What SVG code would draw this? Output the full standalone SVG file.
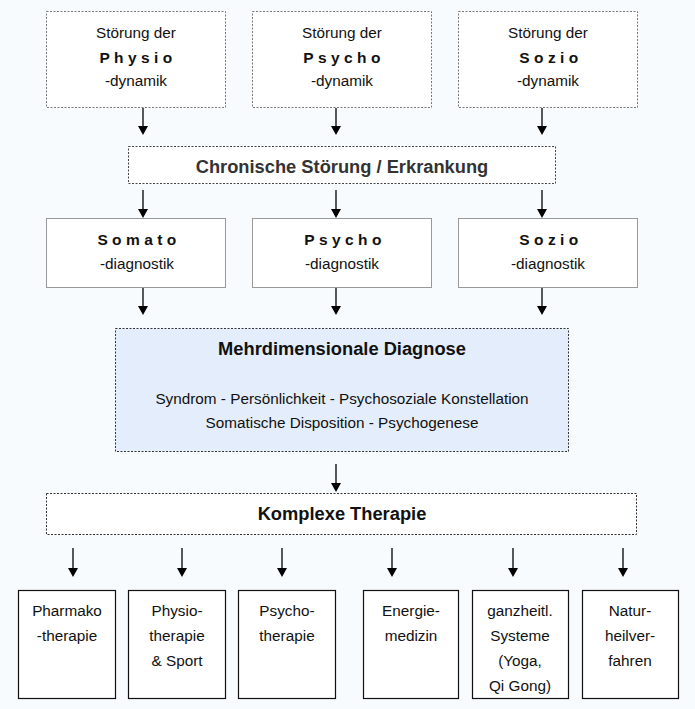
<svg xmlns="http://www.w3.org/2000/svg" width="695" height="709" viewBox="0 0 695 709">
<defs>
<style>
text{font-family:"Liberation Sans",Arial,sans-serif;fill:#111;text-anchor:middle}
.t{font-size:15.3px}
.s{font-size:15.5px;font-weight:bold;letter-spacing:4.4px}
.h{font-size:18.3px;font-weight:bold}
.dash{fill:#fff;stroke:#777;stroke-width:1;stroke-dasharray:2,1.5}
.dashk{stroke:#333;stroke-width:1;stroke-dasharray:2,1.5}
.sol{fill:#fff;stroke:#999;stroke-width:1}
.blk{fill:#fff;stroke:#111;stroke-width:1.2}
.c{stroke:#000;stroke-width:1.3;fill:none}
.hd{fill:#000}
</style>
</defs>
<rect width="695" height="709" fill="#f8fbfe"/>
<g id="n-physio"><rect class="dash" x="46.5" y="11.5" width="179" height="96"/><text class="t" x="136" y="38">Störung der</text><text class="s" x="138" y="63">Physio</text><text class="t" x="136" y="86">-dynamik</text></g>
<g id="n-psycho"><rect class="dash" x="252.5" y="11.5" width="179" height="96"/><text class="t" x="342" y="38">Störung der</text><text class="s" x="344" y="63">Psycho</text><text class="t" x="342" y="86">-dynamik</text></g>
<g id="n-sozio"><rect class="dash" x="458.5" y="11.5" width="179" height="96"/><text class="t" x="548" y="38">Störung der</text><text class="s" x="551" y="63">Sozio</text><text class="t" x="548" y="86">-dynamik</text></g>
<g id="n-chron"><rect class="dash" x="128.5" y="146.5" width="427" height="37" style="stroke:#444"/><text class="h" x="342" y="173" style="fill:#333">Chronische Störung / Erkrankung</text></g>
<g id="n-somato"><rect class="sol" x="46.5" y="218.5" width="179" height="69"/><text class="s" x="139" y="245">Somato</text><text class="t" x="137" y="269">-diagnostik</text></g>
<g id="n-psychod"><rect class="sol" x="252.5" y="218.5" width="179" height="69"/><text class="s" x="345" y="245">Psycho</text><text class="t" x="342" y="269">-diagnostik</text></g>
<g id="n-soziod"><rect class="sol" x="458.5" y="218.5" width="179" height="69"/><text class="s" x="551" y="245">Sozio</text><text class="t" x="548" y="269">-diagnostik</text></g>
<g id="n-diag"><rect class="dashk" x="115.5" y="328.5" width="453" height="123" fill="#e3edfb"/><text class="h" x="342" y="355">Mehrdimensionale Diagnose</text><text class="t" x="342" y="404">Syndrom - Persönlichkeit - Psychosoziale Konstellation</text><text class="t" x="342" y="428">Somatische Disposition - Psychogenese</text></g>
<g id="n-therapie"><rect class="dashk" x="46.5" y="493.5" width="590" height="41" fill="#fff"/><text class="h" x="342" y="520">Komplexe Therapie</text></g>
<g id="n-pharma"><rect class="blk" x="18.5" y="590.5" width="97" height="108"/><text class="t" x="67" y="616">Pharmako</text><text class="t" x="67" y="641">-therapie</text></g>
<g id="n-physiot"><rect class="blk" x="128.5" y="590.5" width="97" height="108"/><text class="t" x="177" y="616">Physio-</text><text class="t" x="177" y="641">therapie</text><text class="t" x="177" y="666">&amp; Sport</text></g>
<g id="n-psychot"><rect class="blk" x="238.5" y="590.5" width="97" height="108"/><text class="t" x="287" y="616">Psycho-</text><text class="t" x="287" y="641">therapie</text></g>
<g id="n-energie"><rect class="blk" x="363.5" y="590.5" width="95" height="108"/><text class="t" x="411" y="616">Energie-</text><text class="t" x="411" y="641">medizin</text></g>
<g id="n-ganz"><rect class="blk" x="472.5" y="590.5" width="96" height="108"/><text class="t" x="520" y="616">ganzheitl.</text><text class="t" x="520" y="641">Systeme</text><text class="t" x="520" y="666">(Yoga,</text><text class="t" x="520" y="691">Qi Gong)</text></g>
<g id="n-natur"><rect class="blk" x="582.5" y="590.5" width="96" height="108"/><text class="t" x="630" y="616">Natur-</text><text class="t" x="630" y="641">heilver-</text><text class="t" x="630" y="666">fahren</text></g>
<g id="connectors">
<path class="c" d="M143,108V127M336,108V127M542,108V127M143,190V210M336,190V210M542,190V210M143,288V307M336,288V307M542,288V307M336,464V484M73,548V569M182,548V569M282,548V569M392,548V569M513,548V569M623,548V569"/>
<path class="hd" d="M138,126h10l-5,9zM331,126h10l-5,9zM537,126h10l-5,9zM138,209h10l-5,9zM331,209h10l-5,9zM537,209h10l-5,9zM138,306h10l-5,9zM331,306h10l-5,9zM537,306h10l-5,9zM331,483h10l-5,9zM68,568h10l-5,9zM177,568h10l-5,9zM277,568h10l-5,9zM387,568h10l-5,9zM508,568h10l-5,9zM618,568h10l-5,9z"/>
</g>
</svg>
